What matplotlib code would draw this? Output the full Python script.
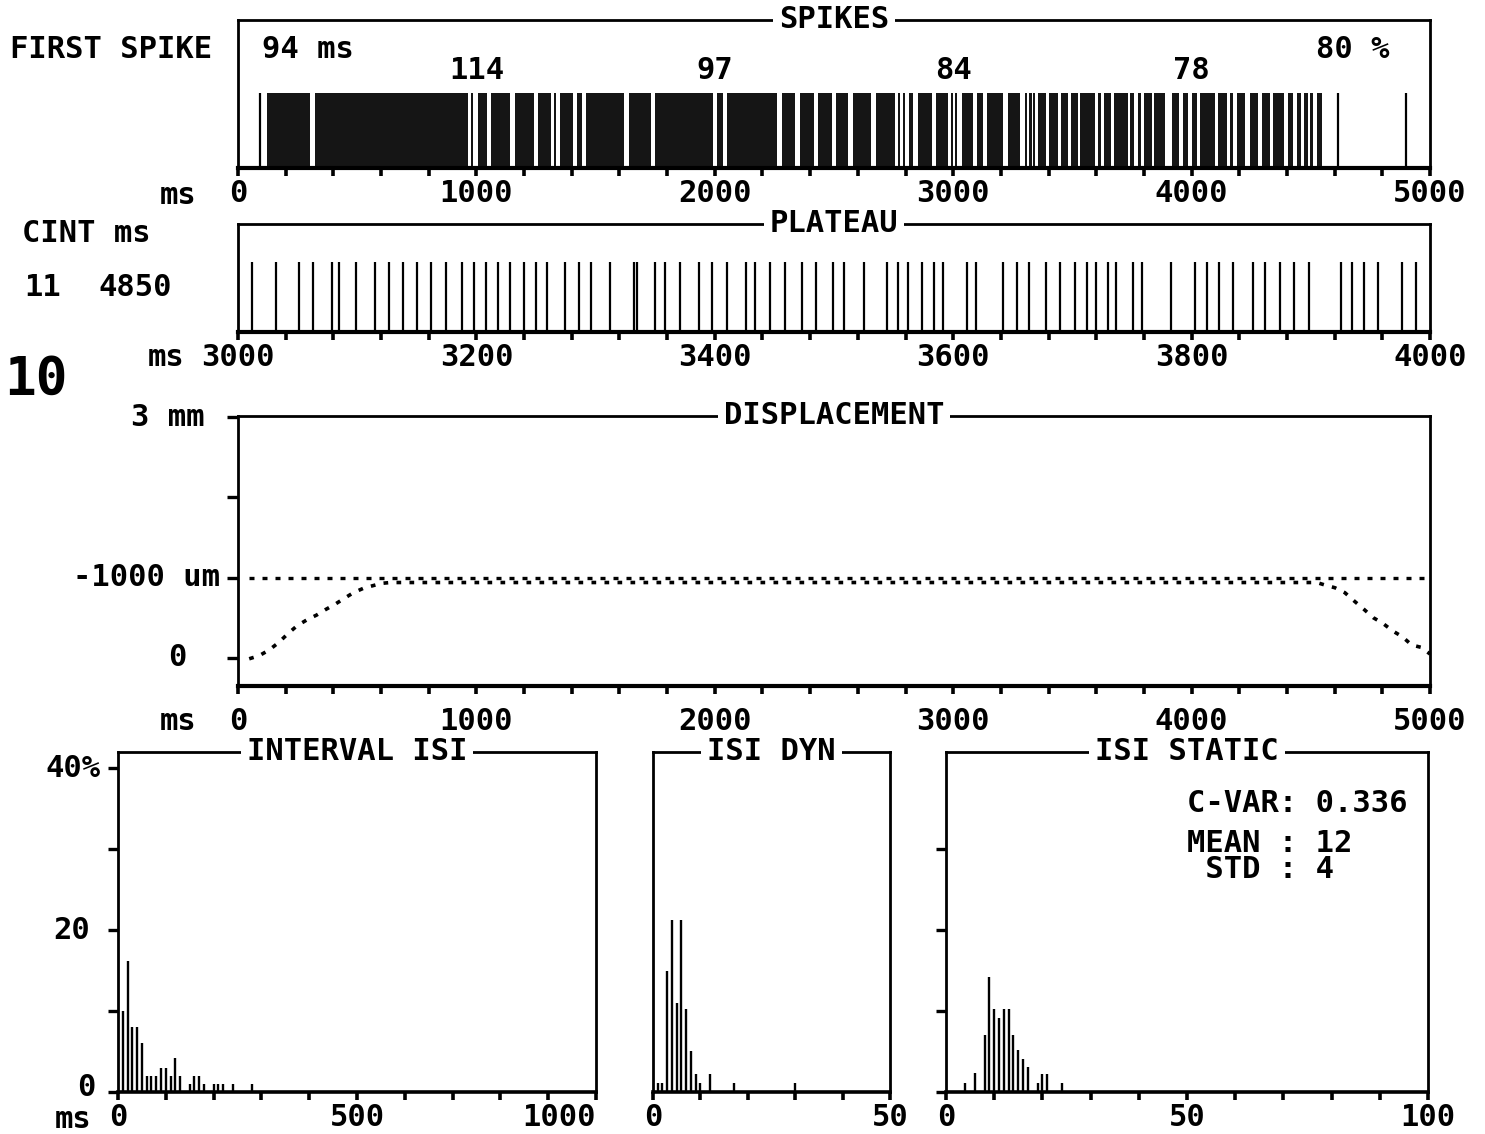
import matplotlib
matplotlib.use("Agg")
import matplotlib.pyplot as plt
import matplotlib.transforms as mtransforms

W, H, DPI = 1485, 1134, 100

# ---------------- data ----------------
first_spike_ms = 94
response_pct = 80
rate_times = [1000, 2000, 3000, 4000]
rate_values = [114, 97, 84, 78]

burst_start_ms = [120, 324, 977, 1008, 1061, 1161, 1260, 1327, 1351, 1421,
                  1460, 1641, 1749, 2011, 2052, 2281, 2357, 2434, 2508, 2581,
                  2675, 2767, 2788, 2816, 2854, 2928, 2990, 3008, 3036, 3101,
                  3143, 3231, 3301, 3319, 3336, 3357, 3402, 3452, 3493, 3533,
                  3606, 3634, 3676, 3743, 3776, 3799, 3844, 3916, 3965, 4000,
                  4035, 4112, 4161, 4189, 4245, 4297, 4343, 4403, 4441, 4472,
                  4498, 4525]
burst_end_ms = [302, 964, 987, 1043, 1141, 1240, 1313, 1334, 1404, 1443,
                1620, 1731, 1991, 2033, 2260, 2336, 2416, 2490, 2560, 2654,
                2756, 2777, 2798, 2833, 2910, 2979, 2998, 3017, 3084, 3124,
                3210, 3280, 3311, 3329, 3343, 3388, 3438, 3480, 3522, 3595,
                3620, 3662, 3732, 3760, 3788, 3833, 3889, 3947, 3986, 4021,
                4098, 4147, 4175, 4224, 4277, 4329, 4389, 4427, 4459, 4487,
                4511, 4548]
isolated_spikes_ms = [94, 4616, 4899]

cint_ms = 11
plateau_end_ms = 4850
plateau_spikes_ms = [3011.5, 3031.5, 3051.3, 3062.9, 3078.5, 3084.5, 3098.7, 3115, 3126.7, 3138.3,
                     3150.2, 3161.8, 3174.1, 3188.3, 3198, 3208.2, 3218.2, 3228.2, 3239.8, 3249.7,
                     3259.6, 3274.2, 3286.2, 3295.8, 3311.7, 3332.3, 3335, 3349.9, 3358.2, 3370.5,
                     3386.4, 3398, 3410.2, 3426.2, 3433.8, 3446, 3459.3, 3473.3, 3485.2, 3499.2,
                     3508, 3524.9, 3544.8, 3554.1, 3562.4, 3574, 3584, 3591.3, 3611.8, 3619.5,
                     3641.7, 3653.6, 3663.6, 3677.5, 3689.4, 3701.8, 3712.3, 3720, 3730, 3736.2,
                     3750.5, 3758.8, 3783, 3802.6, 3812.8, 3822.8, 3835.1, 3851.7, 3861.7, 3873.9,
                     3885.8, 3898.5, 3925.7, 3934.6, 3944.5, 3956.2, 3976.8, 3988.3]

disp_t_ms = [47, 89, 131, 172, 208, 248, 288, 330, 369, 407, 446, 484, 526, 565, 603, 640,
             4525, 4559, 4601, 4643, 4682, 4723, 4762, 4802, 4844, 4884, 4923, 4962, 5000]
disp_um = [-10, 29, 100, 196, 299, 402, 473, 535, 606, 669, 743, 813, 868, 900, 930, 940,
           940, 909, 875, 813, 710, 606, 502, 432, 336, 265, 162, 133, 50]
disp_ref_um = 1000
disp_ref_span_ms = [45, 5000]

isi_bins_ms = [10, 20, 30, 40, 50, 60, 70, 80, 90, 100, 110, 120, 130, 150, 160, 170, 180, 200, 210, 220, 240, 280]
isi_pct = [10, 16.2, 8, 8, 6, 2, 2, 2, 3, 3, 2, 4.2, 2, 1, 2, 2, 1, 1, 1, 1, 1, 1]

dyn_bins_ms = [1, 2, 3, 4, 5, 6, 7, 8, 9, 10, 12, 17, 30]
dyn_pct = [1.1, 1.1, 15, 21.2, 11, 21.2, 10.2, 5.1, 2.2, 1.1, 2.2, 1.1, 1.1]

static_bins_ms = [4, 6, 8, 9, 10, 11, 12, 13, 14, 15, 16, 17, 19, 20, 21, 24]
static_pct = [1.1, 2.3, 7.1, 14.2, 10.2, 9.1, 10.2, 10.2, 7.1, 5.2, 4.1, 3.1, 1.1, 2.2, 2.2, 1.1]

c_var = 0.336
isi_mean = 12
isi_std = 4

# ---------------- style ----------------
plt.rcParams["font.family"] = ["DejaVu Sans Mono", "DejaVu Sans"]
plt.rcParams["font.weight"] = "bold"
FS = 22
LW = 2.0

fig = plt.figure(figsize=(W / DPI, H / DPI), dpi=DPI)
fig.patch.set_facecolor("white")


def add_ax(x0, y0, x1, y1):
    ax = fig.add_axes([x0 / W, 1 - y1 / H, (x1 - x0) / W, (y1 - y0) / H])
    for s in ax.spines.values():
        s.set_linewidth(LW)
        s.set_color("black")
    ax.tick_params(axis="both", which="both", direction="out", length=6, width=2.6,
                   labelsize=FS, pad=2, colors="black")
    ax.tick_params(axis="y", which="both", left=False, labelleft=False)
    ax.set_facecolor("none")
    return ax


def frame_title(ax, text):
    ax.text(0.5, 1.0, text, transform=ax.transAxes, ha="center", va="center",
            fontsize=FS, zorder=10, clip_on=False,
            bbox=dict(boxstyle="square,pad=0.2", fc="white", ec="none"))


def ftext(x, y, s, ha="left", size=FS, **kw):
    fig.text(x / W, 1 - y / H, s, ha=ha, va="center", fontsize=size, **kw)


# ---- SPIKES ----
ax1 = add_ax(238, 20, 1430, 168)
ax1.set_xlim(0, 5000)
ax1.set_ylim(0, 1)
spike_h = 0.51
ax1.broken_barh([(s, e - s) for s, e in zip(burst_start_ms, burst_end_ms)], (0, spike_h),
                facecolor="#151515", edgecolor="none")
ax1.vlines(isolated_spikes_ms, 0, spike_h, color="black", lw=1.6)
ax1.spines["bottom"].set_linewidth(3)
ax1.set_xticks([0, 1000, 2000, 3000, 4000, 5000], ["0", "1000", "2000", "3000", "4000", "5000"])
ax1.set_xticks(list(range(0, 5001, 200)), minor=True)
frame_title(ax1, "SPIKES")
blend1 = mtransforms.blended_transform_factory(ax1.transData, ax1.transAxes)
for t, v in zip(rate_times, rate_values):
    ax1.text(t, 0.66, str(v), transform=blend1, ha="center", va="center", fontsize=FS)
ftext(10, 50, "FIRST SPIKE")
ftext(262, 50, f"{first_spike_ms} ms")
ftext(1390, 50, f"{response_pct} %", ha="right")
ftext(160, 196, "ms")

# ---- PLATEAU ----
ax2 = add_ax(238, 224, 1430, 332)
ax2.set_xlim(3000, 4000)
ax2.set_ylim(0, 1)
ax2.vlines(plateau_spikes_ms, 0, 0.65, color="black", lw=1.6)
ax2.spines["bottom"].set_linewidth(3)
ax2.set_xticks([3000, 3200, 3400, 3600, 3800, 4000], ["3000", "3200", "3400", "3600", "3800", "4000"])
ax2.set_xticks(list(range(3000, 4001, 40)), minor=True)
frame_title(ax2, "PLATEAU")
ftext(22, 233, "CINT ms")
ftext(24, 288, f"{cint_ms}")
ftext(98, 288, f"{plateau_end_ms}")
ftext(148, 358, "ms")
ftext(4, 380, "10", size=38)

# ---- DISPLACEMENT ----
ax3 = add_ax(238, 416, 1430, 686)
ax3.set_zorder(5)
ax3.set_xlim(0, 5000)
ax3.set_ylim(-349, 3014)
ax3.plot(disp_ref_span_ms, [disp_ref_um, disp_ref_um], color="black", lw=2.4,
         linestyle=(0, (1.5, 2.4)), dash_capstyle="butt")
ax3.plot(disp_t_ms, disp_um, color="black", lw=2.6,
         linestyle=(0, (1.3, 2.3)), dash_capstyle="butt")
ax3.set_xticks([0, 1000, 2000, 3000, 4000, 5000], ["0", "1000", "2000", "3000", "4000", "5000"])
ax3.set_xticks(list(range(0, 5001, 200)), minor=True)
ax3.tick_params(axis="x", which="both", pad=9)
ax3.spines["bottom"].set_linewidth(3)
ax3.tick_params(axis="y", which="both", left=True, length=8, width=2.4)
ax3.set_yticks([0, 1000, 2000, 3000])
frame_title(ax3, "DISPLACEMENT")
blend3 = mtransforms.blended_transform_factory(ax3.transAxes, ax3.transData)
ax3.text(-0.0277, 3000, "3 mm", transform=blend3, ha="right", va="center", fontsize=FS)
ax3.text(-0.0151, 1000, "-1000 um", transform=blend3, ha="right", va="center", fontsize=FS)
ax3.text(-0.0436, 0, "0", transform=blend3, ha="right", va="center", fontsize=FS)
ftext(160, 722, "ms")

# ---- HISTOGRAMS ----
def hist_ax(x0, x1, xmax, minor_step, labels, bins, pct, yticks):
    ax = add_ax(x0, 752, x1, 1092)
    ax.set_xlim(0, xmax)
    ax.set_ylim(0, 42)
    ax.vlines(bins, 0, pct, color="black", lw=1.7)
    ax.set_xticks(labels, [str(v) for v in labels])
    ax.set_xticks([i * minor_step for i in range(int(round(xmax / minor_step)) + 1)], minor=True)
    ax.spines["bottom"].set_linewidth(2.6)
    if yticks:
        ax.tick_params(axis="y", which="both", left=True, length=7, width=2.4)
        ax.set_yticks(yticks)
    return ax


ax4 = hist_ax(118, 596, 1000, 100, [0, 500, 1000], isi_bins_ms, isi_pct, [0, 10, 20, 30, 40])
for lbl in ax4.get_xticklabels():
    if lbl.get_text() == "1000":
        lbl.set_horizontalalignment("right")
frame_title(ax4, "INTERVAL ISI")
blend4 = mtransforms.blended_transform_factory(ax4.transAxes, ax4.transData)
ax4.text(-0.152, 40, "40%", transform=blend4, ha="left", va="center", fontsize=FS)
ax4.text(-0.058, 20, "20", transform=blend4, ha="right", va="center", fontsize=FS)
ax4.text(-0.048, 0.6, "0", transform=blend4, ha="right", va="center", fontsize=FS)
ftext(55, 1120, "ms")

ax5 = hist_ax(653, 890, 50, 10, [0, 50], dyn_bins_ms, dyn_pct, None)
frame_title(ax5, "ISI DYN")

ax6 = hist_ax(946, 1428, 100, 10, [0, 50, 100], static_bins_ms, static_pct, [0, 10, 20, 30])
frame_title(ax6, "ISI STATIC")
ftext(1187, 803, f"C-VAR: {c_var:.3f}")
ftext(1187, 843, f"MEAN : {isi_mean}")
ftext(1187, 870, f" STD : {isi_std}")

fig.savefig("out.png", dpi=DPI)
